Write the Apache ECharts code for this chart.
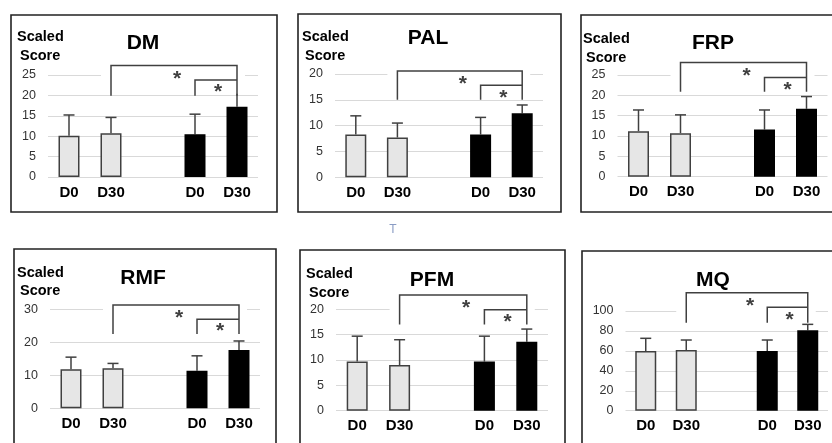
<!DOCTYPE html>
<html><head><meta charset="utf-8">
<script src="https://cdn.jsdelivr.net/npm/echarts@6/dist/echarts.min.js"></script>
<style>html,body{margin:0;padding:0;background:#fff}#c{width:832px;height:443px}</style>
</head><body><div id="c"></div>
<script>
// ---- data ----
const categories = ['D0', 'D30', '', 'D0', 'D30'];
const panelTitles = ['DM', 'PAL', 'FRP', 'RMF', 'PFM', 'MQ'];
const yLabelLine1 = 'Scaled';
const yLabelLine2 = 'Score';

const dmMean = [10.1, 10.7, 10.5, 17.2];
const dmErrTop = [15.2, 14.6, 15.4, 20.9];
const dmBracket = [27.3, 23.8, 19.9];

const palMean = [8.3, 7.7, 8.3, 12.4];
const palErrTop = [11.9, 10.5, 11.6, 14.0];
const palBracket = [20.6, 17.8, 15.0];

const frpMean = [11.2, 10.7, 11.6, 16.7];
const frpErrTop = [16.4, 15.2, 16.4, 19.7];
const frpBracket = [28.1, 24.4, 20.9];

const rmfMean = [11.8, 12.1, 11.4, 17.7];
const rmfErrTop = [15.5, 13.6, 15.9, 20.4];
const rmfBracket = [31.3, 27.0, 22.5];

const pfmMean = [9.7, 9.0, 9.7, 13.6];
const pfmErrTop = [14.7, 14.0, 14.7, 16.1];
const pfmBracket = [22.8, 19.9, 17.0];

const mqMean = [59.9, 60.9, 59.9, 80.6];
const mqErrTop = [72.6, 70.9, 70.9, 86.6];
const mqBracket = [118.4, 103.7, 88.3];

const yMax = [25, 20, 25, 30, 20, 100];
const yStep = [5, 5, 5, 10, 5, 20];
const starText = '*';

// ---- layout ----
const means = [dmMean, palMean, frpMean, rmfMean, pfmMean, mqMean];
const errTops = [dmErrTop, palErrTop, frpErrTop, rmfErrTop, pfmErrTop, mqErrTop];
const brackets = [dmBracket, palBracket, frpBracket, rmfBracket, pfmBracket, mqBracket];
const barCat = [0, 1, 3, 4];

const gridsPos = [
  {left: 48, top: 75, width: 210, height: 102},
  {left: 335, top: 74, width: 208, height: 103.3},
  {left: 617.5, top: 75, width: 210, height: 101.7},
  {left: 50, top: 309.3, width: 210, height: 99},
  {left: 336, top: 309.3, width: 212, height: 101.4},
  {left: 625.5, top: 311, width: 202.5, height: 99.7}
];
const frames = [
  [11, 15, 266, 197], [298, 14, 263, 198], [581, 15, 260, 197],
  [14, 249, 262, 210], [300, 250, 265, 210], [582, 251, 260, 210]
];
const titlePos = [[143, 43], [428, 38], [713, 43], [143, 278], [432, 280], [713, 280]];
const scaledPos = [[17, 37, 20, 56], [302, 37, 305, 56], [583, 39, 586, 58], [17, 273, 20, 291], [306, 274, 309, 293], null];

const FONT = "'Liberation Sans', Arial, sans-serif";
const LIGHT = '#e6e6e6', DARK = '#000', LINE = '#404040';

const grid = [], xAxis = [], yAxis = [], series = [], graphic = [];

for (let i = 0; i < 6; i++) {
  grid.push(Object.assign({containLabel: false}, gridsPos[i]));
  xAxis.push({
    type: 'category', gridIndex: i, data: categories,
    axisLine: {show: false}, axisTick: {show: false},
    axisLabel: {interval: 0, margin: 8, color: '#000', fontSize: 15, fontWeight: 'bold', fontFamily: FONT}
  });
  yAxis.push({
    type: 'value', gridIndex: i, min: 0, max: yMax[i], interval: yStep[i],
    axisLine: {show: false}, axisTick: {show: false},
    splitLine: {lineStyle: {color: '#d9d9d9', width: 1}},
    axisLabel: {margin: 12, color: '#333', fontSize: 12.5, fontFamily: FONT}
  });
  const barData = ['-', '-', '-', '-', '-'];
  means[i].forEach((v, k) => {
    const light = k < 2;
    barData[barCat[k]] = {value: v, itemStyle: {color: light ? LIGHT : DARK, borderColor: light ? LINE : DARK, borderWidth: 1.5}};
  });
  series.push({
    type: 'bar', xAxisIndex: i, yAxisIndex: i, data: barData, barWidth: 21, barGap: '0%',
    silent: true, animation: false
  });
  series.push({
    type: 'custom', xAxisIndex: i, yAxisIndex: i, animation: false, silent: true,
    data: means[i].map((v, k) => [barCat[k], v, errTops[i][k]]),
    renderItem: function (params, api) {
      const x = api.value(0);
      const p0 = api.coord([x, api.value(1)]);
      const p1 = api.coord([x, api.value(2)]);
      const st = {stroke: LINE, lineWidth: 1.5};
      return {type: 'group', children: [
        {type: 'line', shape: {x1: p0[0], y1: p0[1], x2: p1[0], y2: p1[1]}, style: st},
        {type: 'line', shape: {x1: p1[0] - 5.5, y1: p1[1], x2: p1[0] + 5.5, y2: p1[1]}, style: st}
      ]};
    }
  });
  series.push({
    type: 'custom', xAxisIndex: i, yAxisIndex: i, animation: false, silent: true, clip: false, z: 5,
    data: [brackets[i]],
    renderItem: function (params, api) {
      const big = api.value(0), small = api.value(1), leg = api.value(2);
      const a = api.coord([1, big]), b = api.coord([4, big]);
      const c = api.coord([3, small]), d = api.coord([4, small]);
      const aL = api.coord([1, leg]), cL = api.coord([3, leg]), bL = api.coord([4, leg]);
      const st = {stroke: LINE, lineWidth: 1.5};
      const starStyle = (x, y) => ({text: starText, x: x, y: y, fill: LINE, font: "bold 21px " + FONT, textAlign: 'center', textVerticalAlign: 'top'});
      return {type: 'group', children: [
        {type: 'rect', shape: {x: a[0] - 10, y: a[1] - 1, width: b[0] - a[0] + 18, height: aL[1] - a[1] - 1}, style: {fill: '#fff'}},
        {type: 'polyline', shape: {points: [[aL[0], aL[1]], [a[0], a[1]], [b[0], b[1]], [bL[0], bL[1]]]}, style: Object.assign({fill: null}, st)},
        {type: 'polyline', shape: {points: [[cL[0], cL[1]], [c[0], c[1]], [d[0], d[1]]]}, style: Object.assign({fill: null}, st)},
        {type: 'text', style: starStyle((a[0] + b[0]) / 2 + 3, a[1] + 3)},
        {type: 'text', style: starStyle((c[0] + d[0]) / 2 + 2, c[1] + 2)}
      ]};
    }
  });
  const f = frames[i];
  graphic.push({type: 'rect', shape: {x: f[0], y: f[1], width: f[2], height: f[3]}, style: {fill: null, stroke: '#222', lineWidth: 1.6}, z: 10});
  graphic.push({type: 'text', x: titlePos[i][0], y: titlePos[i][1], style: {text: panelTitles[i], font: "bold 21px " + FONT, fill: '#000', textAlign: 'center', textVerticalAlign: 'middle'}});
  if (scaledPos[i]) {
    const s = scaledPos[i];
    graphic.push({type: 'text', x: s[0], y: s[1], style: {text: yLabelLine1, font: "bold 14.5px " + FONT, fill: '#000', textAlign: 'left', textVerticalAlign: 'middle'}});
    graphic.push({type: 'text', x: s[2], y: s[3], style: {text: yLabelLine2, font: "bold 14.5px " + FONT, fill: '#000', textAlign: 'left', textVerticalAlign: 'middle'}});
  }
}
graphic.push({type: 'text', x: 393, y: 230, style: {text: 'T', font: "12px " + FONT, fill: '#8a9cc4', textAlign: 'center', textVerticalAlign: 'middle'}});

const chart = echarts.init(document.getElementById('c'), null, {renderer: 'canvas'});
chart.setOption({animation: false, grid, xAxis, yAxis, series, graphic});
</script>
</body></html>
